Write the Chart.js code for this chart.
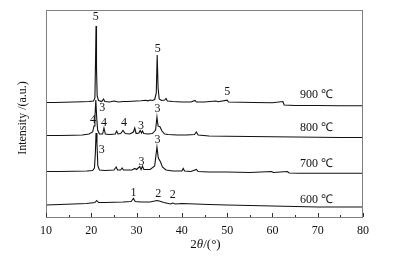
<!DOCTYPE html>
<html><head><meta charset="utf-8">
<script src="https://cdn.jsdelivr.net/npm/chart.js@4.4.1/dist/chart.umd.min.js"></script>
<style>html,body{margin:0;padding:0;background:#fff}#wrap{width:394px;height:256px}</style>
</head><body><div id="wrap"><canvas id="c" width="394" height="256"></canvas></div>
<script>
// 2θ positions (degrees) and read intensities (offset a.u.) for each calcination temperature
const theta900 = [10,12,14,16,18,19.5,20.5,20.8,20.95,21.05,21.15,21.3,21.6,22.3,22.7,23.0,24,25,26,27,28,29,30,31,32,32.5,33,33.5,34.0,34.35,34.55,34.75,35.0,35.5,36.2,36.5,36.8,38,40,42,42.9,43.2,45,47.5,48,50,50.3,53,56,60,62.3,62.6,65,70,75,80];
const int900   = [115.5,115.5,115.8,116,116.3,116.5,117,120,160,192,150,122,117.5,116.5,119,116.5,116,117,116,116.5,116.5,116.8,117,117.2,117.8,117.2,118,117.5,118.5,125,163,130,119,117.5,118,119.5,117,116.5,116,116,117.5,116,116,117,116.3,117.8,116,115.7,115.5,115.3,116.5,113,112.5,112.5,112.3,112.3];

const theta800 = [10,13,16,18,19.5,20.3,20.6,20.8,21.0,21.2,21.4,21.8,22.5,22.8,23.1,24,25.3,25.6,25.9,26.5,27.0,27.5,28.5,29.3,29.6,29.9,30.5,30.8,31.1,31.3,31.6,32.5,33.5,34.2,34.5,34.75,35.2,35.6,36.2,37,39,41,42.8,43.2,43.6,46,50,55,60,65,70,75,80];
const int800   = [82.5,82.5,82.8,83,84,86,92,100,118,100,88,84,84,90,84,83.5,84,87,84,84.5,87.5,84.5,84,86,90,84.5,85,87.5,85,87,84.5,84,84.5,88,101,92,91,87,84,83.5,83,83,83.5,86,83,82,81.8,81.5,81.3,81,80.7,80.5,80.5];

const theta700 = [10,13,16,19,20.3,20.7,20.9,21.05,21.25,21.45,21.8,23,25,25.5,25.8,26.5,26.8,27.1,29,29.6,30,30.7,31.0,31.3,31.6,33,34.0,34.5,34.8,35.3,35.7,36.5,38,40,40.3,40.6,42,43.2,43.6,46,50,55,59.8,60.2,63.3,63.7,66,70,75,80];
const int700   = [46.5,46.5,46.8,47,47.5,50,65,85,75,52,48,47.5,48,51,48,48,50,48,48,49.5,48.5,51.5,48.5,52,48.5,48.5,52,71,60,56,51,48,47,47,49.5,47,46.5,48.5,46.5,46,46,45.5,46.5,45.5,46.5,45,44.8,44.7,44.7,44.7];

const theta600 = [10,13,16,19,20.8,21.2,21.6,23,25,27,28.8,29.3,29.7,31,33,34.5,35,36,37.5,38,38.5,40,43,46,50,55,60,65,70,80];
const int600   = [13,13.5,14,14.5,15.5,17.5,15.5,15.5,15.8,16,16.5,19.5,16.5,16,16,17.5,17,15.5,14,15,14,14.5,14,13.5,13,12.5,12,11.5,11,11];

// curve labels
const tempLabels = ['900 ℃','800 ℃','700 ℃','600 ℃'];
const tempLabelTheta = [66.1,66.1,66.1,66.1];
const tempLabelInt = [123,90,54,18];

// phase-number annotations
const peakText  = ['5','5','5','3','4','4','4','3','3','3','3','3','1','2','2'];
const peakTheta = [21.0,34.7,50.0,22.4,20.4,22.8,27.2,31.0,34.6,22.3,31.1,34.6,29.3,34.8,38.0];
const peakInt   = [201,169,126,110,98,95,95,92,109,68,56,78,25,24,23];

const xTickValues = [10,20,30,40,50,60,70,80];
const yTitle = 'Intensity /(a.u.)';

function pts(xs, ys){ return xs.map((x,i)=>({x:x,y:ys[i]})); }

const serif = '"Liberation Serif","Times New Roman",serif';

const decor = {
  id:'decor',
  afterDraw(chart){
    const ctx = chart.ctx, a = chart.chartArea, xs = chart.scales.x, ys = chart.scales.y;
    ctx.save();
    // frame
    ctx.strokeStyle = '#808080'; ctx.lineWidth = 1;
    ctx.strokeRect(Math.round(a.left)+0.5, Math.round(a.top)+0.5, Math.round(a.right-a.left)-1, Math.round(a.bottom-a.top)-1);
    // inward ticks on bottom axis
    ctx.strokeStyle = '#333';
    for (let v = 10; v <= 80; v += 5) {
      const px = Math.round(xs.getPixelForValue(v)) + 0.5;
      const len = (v % 10 === 0) ? 4 : 2;
      ctx.beginPath(); ctx.moveTo(px, a.bottom - 1); ctx.lineTo(px, a.bottom - 1 - len); ctx.stroke();
    }
    // text labels
    ctx.fillStyle = '#111';
    ctx.font = '12px ' + serif;
    ctx.textBaseline = 'middle';
    ctx.textAlign = 'left';
    tempLabels.forEach((t,i)=>{
      ctx.fillText(t, xs.getPixelForValue(tempLabelTheta[i]), ys.getPixelForValue(tempLabelInt[i]));
    });
    ctx.textAlign = 'center';
    peakText.forEach((t,i)=>{
      ctx.fillText(t, xs.getPixelForValue(peakTheta[i]), ys.getPixelForValue(peakInt[i]));
    });
    // y axis title
    ctx.save();
    ctx.translate(22.5, (a.top + a.bottom)/2 + 4);
    ctx.rotate(-Math.PI/2);
    ctx.fillText(yTitle, 0, 0);
    ctx.restore();
    // x axis title: 2θ/(°)
    ctx.font = '13px ' + serif;
    const p1 = '2', p2 = 'θ', p3 = '/(°)';
    ctx.textAlign = 'left';
    const w1 = ctx.measureText(p1).width;
    ctx.font = 'italic 13px ' + serif;
    const w2 = ctx.measureText(p2).width;
    ctx.font = '13px ' + serif;
    const w3 = ctx.measureText(p3).width;
    let x0 = (a.left + a.right)/2 - (w1+w2+w3)/2 + 1;
    const ty = 245;
    ctx.fillText(p1, x0, ty); x0 += w1;
    ctx.font = 'italic 13px ' + serif; ctx.fillText(p2, x0, ty); x0 += w2;
    ctx.font = '13px ' + serif; ctx.fillText(p3, x0, ty);
    ctx.restore();
  }
};

const lineStyle = {borderColor:'#111', borderWidth:1.1, pointRadius:0, tension:0, fill:false};

new Chart(document.getElementById('c'), {
  type:'line',
  data:{ datasets:[
    Object.assign({label:'900 ℃', data:pts(theta900,int900)}, lineStyle),
    Object.assign({label:'800 ℃', data:pts(theta800,int800)}, lineStyle),
    Object.assign({label:'700 ℃', data:pts(theta700,int700)}, lineStyle),
    Object.assign({label:'600 ℃', data:pts(theta600,int600)}, lineStyle)
  ]},
  options:{
    responsive:false, animation:false, devicePixelRatio:1,
    layout:{padding:{left:0,right:31,top:10,bottom:0}},
    plugins:{legend:{display:false}, tooltip:{enabled:false}},
    scales:{
      x:{type:'linear', min:10, max:80,
         afterBuildTicks(s){ s.ticks = xTickValues.map(v=>({value:v})); },
         ticks:{color:'#111', font:{family:serif, size:12}, padding:6, maxRotation:0},
         grid:{display:false, drawTicks:false}, border:{display:false},
         afterFit(s){ s.height = 38; }},
      y:{type:'linear', min:0, max:208,
         ticks:{display:false}, grid:{display:false, drawTicks:false}, border:{display:false},
         title:{display:false},
         afterFit(s){ s.width = 46; }}
    }
  },
  plugins:[decor]
});
</script></body></html>
